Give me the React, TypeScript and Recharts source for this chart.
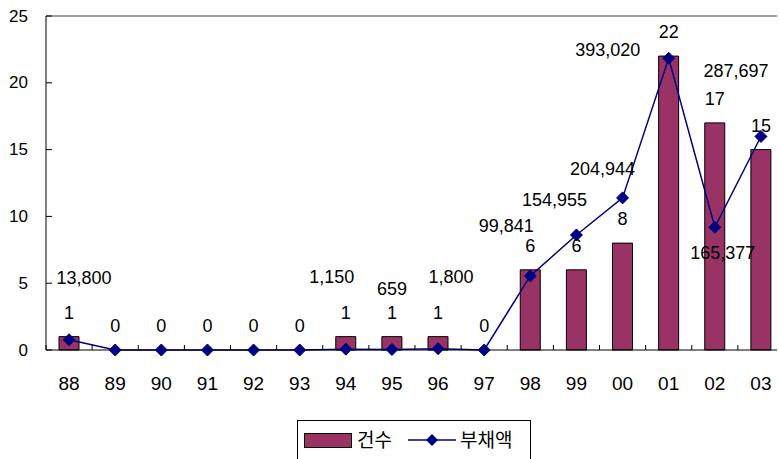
import React from 'react';
import {
  ComposedChart, Bar, Line, XAxis, YAxis, LabelList, ReferenceLine
} from 'recharts';

// yearly case counts (left axis) and debt amounts (right axis)
const years = ['88', '89', '90', '91', '92', '93', '94', '95', '96', '97', '98', '99', '00', '01', '02', '03'];
const counts = [1, 0, 0, 0, 0, 0, 1, 1, 1, 0, 6, 6, 8, 22, 17, 15];
const debts = [13800, 0, 0, 0, 0, 0, 1150, 659, 1800, 0, 99841, 154955, 204944, 393020, 165377, 287697];

const countTicks = [0, 5, 10, 15, 20, 25];
const debtTicks = [0, 50000, 100000, 150000, 200000, 250000, 300000, 350000, 400000, 450000];

const data = years.map((year, i) => ({ year, count: counts[i], debt: debts[i] }));

const BAR_COLOR = '#993366';
const LINE_COLOR = '#000080';
const FONT = '"Liberation Sans", Arial, sans-serif';

// where each debt label sits relative to its point
const debtLabelOffsets: Record<number, [number, number]> = {
  0: [15, -62],
  6: [-14, -72],
  7: [0, -61],
  8: [13, -72],
  10: [-24, -50],
  11: [-22, -35],
  12: [-20, -29],
  13: [-61, -8],
  14: [8, 26],
  15: [-25, -65],
};

const XTick = (props: any) => {
  const { x, y, payload } = props;
  const half = payload.offset ?? 23;
  return (
    <g>
      <line x1={x - half} x2={x - half} y1={y} y2={y - 5} stroke="#000" />
      <text x={x} y={y + 33} textAnchor="middle" dominantBaseline="central" fontSize={19} fontFamily={FONT} fill="#000">
        {payload.value}
      </text>
    </g>
  );
};

const LeftTick = (props: any) => {
  const { x, y, payload } = props;
  return (
    <g>
      <line x1={x} x2={x + 6} y1={y} y2={y} stroke="#000" />
      <text x={x - 18} y={y} textAnchor="end" dominantBaseline="central" fontSize={17} fontFamily={FONT} fill="#000">
        {payload.value}
      </text>
    </g>
  );
};

const RightTick = (props: any) => {
  const { x, y } = props;
  return <line x1={x} x2={x - 5} y1={y} y2={y} stroke="#000" />;
};

const Diamond = (props: any) => {
  const { cx, cy } = props;
  if (cx == null || cy == null) return null;
  const r = 6;
  return (
    <path
      d={`M${cx},${cy - r}L${cx + r},${cy}L${cx},${cy + r}L${cx - r},${cy}Z`}
      fill={LINE_COLOR}
      stroke={LINE_COLOR}
    />
  );
};

const DebtLabel = (props: any) => {
  const { x, y, value, index } = props;
  const off = debtLabelOffsets[index];
  if (!off || !value) return null;
  return (
    <text x={x + off[0]} y={y + off[1]} textAnchor="middle" dominantBaseline="central" fontSize={18} fontFamily={FONT} fill="#000">
      {Number(value).toLocaleString('en-US')}
    </text>
  );
};

// count labels ride on an invisible series so zero bars get one too
const CountLabel = (props: any) => {
  const { x, y, value } = props;
  return (
    <text x={x} y={y - 24} textAnchor="middle" dominantBaseline="central" fontSize={18} fontFamily={FONT} fill="#000">
      {value}
    </text>
  );
};

const LegendBox = () => (
  <div
    style={{
      position: 'absolute', left: 297, top: 420, width: 234, height: 50,
      border: '1px solid #000', background: '#fff', boxSizing: 'border-box',
      fontFamily: '"Noto Sans CJK KR", sans-serif', fontSize: 19, color: '#000',
    }}
  >
    <div style={{ position: 'absolute', left: 6, top: 12, width: 48, height: 15, background: BAR_COLOR, border: '1px solid #000', boxSizing: 'border-box' }} />
    <span style={{ position: 'absolute', left: 59, top: 4, lineHeight: '28px' }}>건수</span>
    <svg style={{ position: 'absolute', left: 110, top: 12 }} width={48} height={14}>
      <line x1={0} x2={48} y1={7} y2={7} stroke={LINE_COLOR} strokeWidth={1.5} />
      <path d="M24,1L30,7L24,13L18,7Z" fill={LINE_COLOR} />
    </svg>
    <span style={{ position: 'absolute', left: 162, top: 4, lineHeight: '28px' }}>부채액</span>
  </div>
);

export default function App() {
  return (
    <div style={{ position: 'absolute', left: 0, top: 0, width: 779, height: 459, overflow: 'hidden', background: '#fff' }}>
      <ComposedChart width={779} height={459} data={data} margin={{ top: 16, right: 2, bottom: 69, left: 0 }}>
        <XAxis
          dataKey="year"
          height={40}
          padding={{ left: 0, right: -7 }}
          axisLine={{ stroke: '#000' }}
          tickLine={false}
          tickSize={0}
          tickMargin={0}
          tick={<XTick />}
          interval={0}
        />
        <YAxis
          yAxisId="left"
          width={46}
          domain={[0, 25]}
          ticks={countTicks}
          axisLine={{ stroke: '#000' }}
          tickLine={false}
          tickSize={0}
          tickMargin={0}
          tick={<LeftTick />}
        />
        <YAxis
          yAxisId="right"
          orientation="right"
          width={0}
          domain={[0, 450000]}
          ticks={debtTicks}
          axisLine={{ stroke: '#000' }}
          tickLine={false}
          tickSize={0}
          tickMargin={0}
          tick={<RightTick />}
        />
        <ReferenceLine yAxisId="left" y={25} stroke="#808080" strokeWidth={1.5} />
        <Bar yAxisId="left" dataKey="count" fill={BAR_COLOR} stroke="#000" strokeWidth={1} barSize={20} isAnimationActive={false} />
        <Line
          yAxisId="left"
          dataKey="count"
          stroke="none"
          dot={false}
          activeDot={false}
          legendType="none"
          isAnimationActive={false}
        >
          <LabelList dataKey="count" content={<CountLabel />} />
        </Line>
        <Line
          yAxisId="right"
          type="linear"
          dataKey="debt"
          stroke={LINE_COLOR}
          strokeWidth={1.5}
          dot={<Diamond />}
          activeDot={false}
          isAnimationActive={false}
        >
          <LabelList dataKey="debt" content={<DebtLabel />} />
        </Line>
      </ComposedChart>
      <LegendBox />
    </div>
  );
}
